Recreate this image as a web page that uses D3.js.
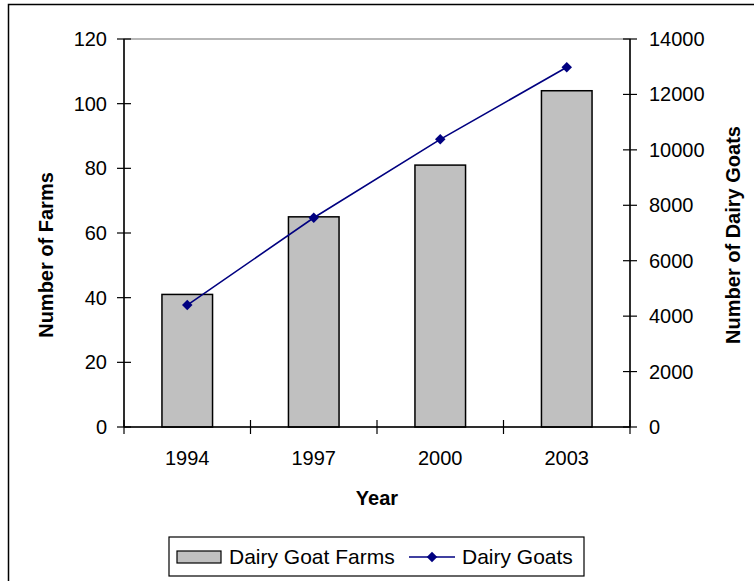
<!DOCTYPE html>
<html><head><meta charset="utf-8">
<script src="https://cdn.jsdelivr.net/npm/d3@7"></script>
<style>
body{margin:0;background:#fff;}
svg text{font-family:"Liberation Sans",Arial,sans-serif;fill:#000;}
</style></head>
<body>
<svg id="c" width="754" height="581"></svg>
<script>
const years = ["1994","1997","2000","2003"];
const farms = [41, 65, 81, 104];
const goats = [4400, 7550, 10380, 12980];
const leftTicks = [0,20,40,60,80,100,120];
const rightTicks = [0,2000,4000,6000,8000,10000,12000,14000];

const svg = d3.select("#c");
const L = 124, R = 630, T = 39, B = 427;

// outer chart border
svg.append("rect").attr("x",8.5).attr("y",4.5).attr("width",800).attr("height",700)
  .attr("fill","none").attr("stroke","#000").attr("stroke-width",1.5);

const x = d3.scaleBand().domain(years).range([L,R]).paddingInner(0).paddingOuter(0);
const yL = d3.scaleLinear().domain([0,120]).range([B,T]);
const yR = d3.scaleLinear().domain([0,14000]).range([B,T]);

// plot area border (gray)
svg.append("rect").attr("x",L).attr("y",T).attr("width",R-L).attr("height",B-T)
  .attr("fill","none").attr("stroke","#a0a0a0").attr("stroke-width",1.5);

// bars
const bw = x.bandwidth()*0.4;
svg.selectAll("rect.bar").data(years).enter().append("rect").attr("class","bar")
  .attr("x",(d)=>x(d)+x.bandwidth()/2-bw/2)
  .attr("y",(d,i)=>yL(farms[i]))
  .attr("width",bw)
  .attr("height",(d,i)=>yL(0)-yL(farms[i]))
  .attr("fill","#c0c0c0").attr("stroke","#000").attr("stroke-width",1.5);

// axes lines
const ax = svg.append("g").attr("stroke","#000").attr("stroke-width",1.5);
ax.append("line").attr("x1",L).attr("x2",L).attr("y1",T).attr("y2",B);
ax.append("line").attr("x1",R).attr("x2",R).attr("y1",T).attr("y2",B);
ax.append("line").attr("x1",L).attr("x2",R).attr("y1",B).attr("y2",B);

// left ticks
const gl = svg.append("g");
leftTicks.forEach(t=>{
  gl.append("line").attr("x1",L-7).attr("x2",L+7).attr("y1",yL(t)).attr("y2",yL(t)).attr("stroke","#000").attr("stroke-width",1.2);
  gl.append("text").attr("x",L-17).attr("y",yL(t)).attr("dy","0.35em").attr("text-anchor","end")
    .attr("font-size",20).text(t);
});
// right ticks
const gr = svg.append("g");
rightTicks.forEach(t=>{
  gr.append("line").attr("x1",R-7).attr("x2",R+7).attr("y1",yR(t)).attr("y2",yR(t)).attr("stroke","#000").attr("stroke-width",1.2);
  gr.append("text").attr("x",R+19).attr("y",yR(t)).attr("dy","0.35em").attr("text-anchor","start")
    .attr("font-size",20).text(t);
});
// x ticks at band boundaries
const bounds = years.map(d=>x(d)).concat([x(years[years.length-1])+x.bandwidth()]);
bounds.forEach(b=>{
  svg.append("line").attr("x1",b).attr("x2",b).attr("y1",B-7).attr("y2",B+7).attr("stroke","#000").attr("stroke-width",1.2);
});
years.forEach(d=>{
  svg.append("text").attr("x",x(d)+x.bandwidth()/2).attr("y",465).attr("text-anchor","middle")
    .attr("font-size",20).text(d);
});

// line
const line = d3.line().x((d,i)=>x(years[i])+x.bandwidth()/2).y(d=>yR(d));
svg.append("path").datum(goats).attr("d",line).attr("fill","none").attr("stroke","#000080").attr("stroke-width",1.6);
const diamond = d3.symbol().type(d3.symbolDiamond2 || d3.symbolSquare).size(70);
svg.selectAll("path.mk").data(goats).enter().append("path").attr("class","mk")
  .attr("d", d3.symbol().type(d3.symbolSquare).size(55))
  .attr("transform",(d,i)=>`translate(${x(years[i])+x.bandwidth()/2},${yR(d)}) rotate(45)`)
  .attr("fill","#000080");

// axis titles
svg.append("text").attr("transform",`translate(53,255) rotate(-90)`).attr("text-anchor","middle")
  .attr("font-size",20).attr("font-weight","bold").text("Number of Farms");
svg.append("text").attr("transform",`translate(740,235) rotate(-90)`).attr("text-anchor","middle")
  .attr("font-size",20).attr("font-weight","bold").text("Number of Dairy Goats");
svg.append("text").attr("x",(L+R)/2).attr("y",505).attr("text-anchor","middle")
  .attr("font-size",20).attr("font-weight","bold").text("Year");

// legend
const lg = svg.append("g");
lg.append("rect").attr("x",169).attr("y",537).attr("width",415).attr("height",39)
  .attr("fill","#fff").attr("stroke","#000").attr("stroke-width",1.2);
lg.append("rect").attr("x",177).attr("y",551).attr("width",44).attr("height",12)
  .attr("fill","#c0c0c0").attr("stroke","#000").attr("stroke-width",1.2);
lg.append("text").attr("x",229).attr("y",564).attr("font-size",21).text("Dairy Goat Farms");
lg.append("line").attr("x1",409).attr("x2",455).attr("y1",557).attr("y2",557).attr("stroke","#000080").attr("stroke-width",1.6);
lg.append("path").attr("d", d3.symbol().type(d3.symbolSquare).size(55)).attr("transform","translate(432,557) rotate(45)").attr("fill","#000080");
lg.append("text").attr("x",462).attr("y",564).attr("font-size",21).text("Dairy Goats");
</script>
</body></html>
